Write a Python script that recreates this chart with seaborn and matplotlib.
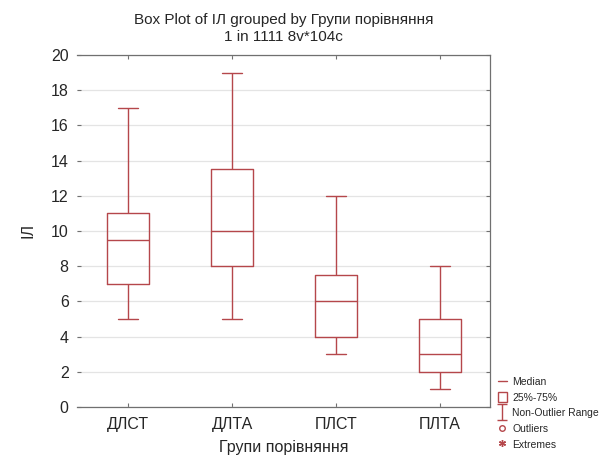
import numpy as np
import pandas as pd
import matplotlib
matplotlib.use("Agg")
import matplotlib.pyplot as plt
import seaborn as sns
from matplotlib.lines import Line2D
from matplotlib.patches import Patch
from matplotlib.path import Path

groups = ['ДЛСТ', 'ДЛТА', 'ПЛСТ', 'ПЛТА']
mins = [5, 5, 3, 1]
q1s = [7, 8, 4, 2]
medians = [9.5, 10, 6, 3]
q3s = [11, 13.5, 7.5, 5]
maxs = [17, 19, 12, 8]
yticks = [0, 2, 4, 6, 8, 10, 12, 14, 16, 18, 20]

rows = []
for g, a, b, c, d, e in zip(groups, mins, q1s, medians, q3s, maxs):
    for v in (a, b, c, d, e):
        rows.append({'group': g, 'value': v})
df = pd.DataFrame(rows)

sns.set_style('white')
plt.rcParams['font.family'] = ['Liberation Sans', 'DejaVu Sans']

RED = '#b5474b'
SPINE = '#707070'

fig = plt.figure(figsize=(6.03, 4.58), dpi=100)
ax = fig.add_axes([0.1277, 0.1114, 0.6849, 0.7686])

sns.boxplot(data=df, x='group', y='value', order=groups, whis=(0, 100),
            width=0.4, fill=False, color=RED, linecolor=RED, linewidth=1.0,
            ax=ax)

ax.set_xlim(-0.49, 3.48)
ax.set_ylim(0, 20)
ax.set_yticks(yticks)
ax.set_yticklabels([str(t) for t in yticks], fontsize=11.5)
ax.set_xticks(range(len(groups)))
ax.set_xticklabels(groups, fontsize=11.5)
ax.yaxis.grid(True, color='#e4e4e4', linewidth=0.9)
ax.set_axisbelow(True)

for side in ('top', 'bottom', 'right'):
    ax.spines[side].set_visible(True)
    ax.spines[side].set_color(SPINE)
    ax.spines[side].set_linewidth(0.9)
ax.spines['left'].set_visible(False)

ax.tick_params(axis='x', direction='in', length=3, color=SPINE, top=True, bottom=True, pad=7)
ax.tick_params(axis='y', direction='in', length=3, color=SPINE, left=True, right=True, pad=6)

ax.set_xlabel('Групи порівняння', fontsize=11.5, labelpad=6)
ax.set_ylabel('ІЛ', fontsize=11.5, labelpad=11)
ax.set_title('Box Plot of ІЛ grouped by Групи порівняння\n1 in 1111 8v*104c',
             fontsize=11, pad=10, linespacing=1.3)

ibar = Path([(-0.6, 1), (0.6, 1), (0, 1), (0, -1), (-0.6, -1), (0.6, -1)],
            [Path.MOVETO, Path.LINETO, Path.MOVETO, Path.LINETO, Path.MOVETO, Path.LINETO])
handles = [
    Line2D([], [], color=RED, linewidth=1.0),
    Patch(facecolor='none', edgecolor=RED, linewidth=1.0),
    Line2D([], [], color=RED, marker=ibar, markersize=12, linestyle='none', markeredgewidth=1.0),
    Line2D([], [], color=RED, marker='o', markerfacecolor='none', markersize=4, linestyle='none'),
    Line2D([], [], color=RED, marker=(6, 2, 0), markersize=5, linestyle='none'),
]
labels = ['Median', '25%-75%', 'Non-Outlier Range', 'Outliers', 'Extremes']
fig.legend(handles, labels, loc='lower left', bbox_to_anchor=(0.822, 0.014),
           frameon=False, fontsize=7.5, handlelength=0.9, handleheight=1.0,
           handletextpad=0.5, labelspacing=0.52, borderaxespad=0, borderpad=0.2)

fig.savefig('out.png', dpi=100)
